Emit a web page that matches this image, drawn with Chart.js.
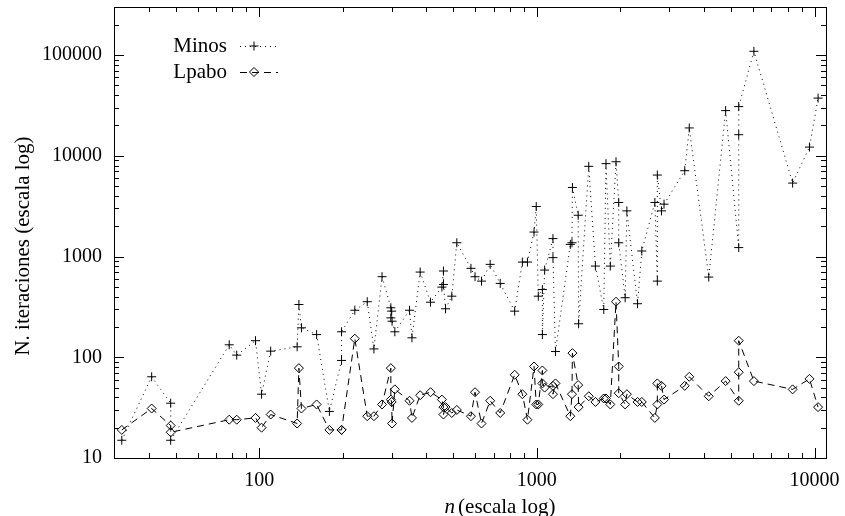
<!DOCTYPE html>
<html>
<head>
<meta charset="utf-8">
<script src="https://cdn.jsdelivr.net/npm/chart.js@4.4.0/dist/chart.umd.min.js"></script>
<style>
	html, body { margin: 0; padding: 0; background: #fff; }
	#wrap { width: 845px; height: 516px; }
</style>
</head>
<body>
<div id="wrap"><canvas id="chartIter"></canvas></div>
<script>
	// problem size n, one entry per test problem
	const sizes = [
		32, 41, 48, 48, 78, 83, 97, 102, 110, 137,
		139, 142, 161, 179, 198, 198, 221, 245, 259, 277,
		298, 298, 300, 301, 308, 348, 355, 380, 414, 455,
		461, 461, 469, 494, 515, 579, 599, 632, 679, 738,
		832, 887, 925, 977, 995, 1012, 1047, 1047, 1067, 1143,
		1143, 1167, 1320, 1338, 1343, 1409, 1414, 1538, 1625, 1742,
		1774, 1839, 1928, 1972, 1972, 2080, 2110, 2305, 2388, 2661,
		2716, 2716, 2812, 2871, 3409, 3540, 4160, 4786, 5334, 5334,
		5334, 6050, 8340, 9590, 10300
	];
	const minosIter = [
		15, 64, 35, 15, 133, 105, 146, 43, 115, 127,
		334, 196, 168, 29, 93, 179, 293, 356, 121, 631,
		310, 246, 287, 228, 179, 293, 156, 701, 352, 497,
		718, 528, 303, 404, 1370, 763, 630, 570, 836, 541,
		287, 881, 881, 1750, 3140, 404, 471, 168, 734, 1507,
		975, 114, 1320, 1370, 4850, 2570, 215, 7860, 804, 298,
		8360, 804, 8730, 3440, 1370, 390, 2840, 340, 1135, 3440,
		570, 6440, 2840, 3310, 7110, 18900, 625, 28100, 1227, 16200,
		30800, 109000, 5360, 12200, 37400
	];
	const lpaboIter = [
		19, 31, 21, 18, 24, 24, 25, 20, 27, 22,
		78, 31, 34, 19, 19, 19, 153, 26, 26, 34,
		78, 38, 36, 22, 48, 37, 25, 42, 45, 38,
		32, 27, 32, 28, 30, 26, 45, 22, 37, 28,
		67, 43, 24, 81, 34, 34, 74, 55, 50, 52,
		43, 55, 26, 43, 110, 53, 32, 41, 36, 39,
		39, 34, 356, 81, 44, 34, 43, 36, 36, 25,
		34, 55, 52, 38, 52, 64, 41, 58, 37, 71,
		146, 58, 48, 61, 32
	];
	const seriesNames = ["Minos", "Lpabo"];
	const xRange = [30, 11000];
	const yRange = [10, 300000];

	const FONT = "'Liberation Serif', 'Times New Roman', serif";
	Chart.defaults.font.family = FONT;
	Chart.defaults.font.size = 20;
	Chart.defaults.color = "#000";

	function isPow10(v) {
		let l = Math.log10(v);
		return Math.abs(l - Math.round(l)) < 1e-9;
	}

	function toPoints(ys) {
		return sizes.map(function(n, i) { return { x: n, y: ys[i] }; });
	}

	const styles = [
		{ dash: [1, 4], point: "cross" },
		{ dash: [7, 5], point: "rectRot" }
	];

	// gnuplot look: frame, inward ticks on every side, legend and axis titles
	const gnuplotFrame = {
		id: "gnuplotFrame",
		afterDraw: function(chart) {
			let ctx = chart.ctx;
			let a = chart.chartArea;
			let xs = chart.scales.x;
			let ys = chart.scales.y;
			ctx.save();
			ctx.strokeStyle = "#000";
			ctx.lineWidth = 1;
			ctx.setLineDash([]);
			ctx.strokeRect(Math.round(a.left) + 0.5, Math.round(a.top) + 0.5,
				Math.round(a.right - a.left), Math.round(a.bottom - a.top));

			function logTicks(min, max) {
				let out = [];
				for (let e = Math.floor(Math.log10(min)); e <= Math.ceil(Math.log10(max)); e++) {
					for (let m = 1; m < 10; m++) {
						let v = m * Math.pow(10, e);
						if (v > min * 1.0001 && v < max * 0.9999) out.push({ v: v, major: m === 1 });
					}
				}
				return out;
			}

			ctx.beginPath();
			logTicks(xs.min, xs.max).forEach(function(t) {
				let px = Math.round(xs.getPixelForValue(t.v)) + 0.5;
				let len = t.major ? 10 : 5;
				ctx.moveTo(px, a.bottom); ctx.lineTo(px, a.bottom - len);
				ctx.moveTo(px, a.top); ctx.lineTo(px, a.top + len);
			});
			logTicks(ys.min, ys.max).forEach(function(t) {
				let py = Math.round(ys.getPixelForValue(t.v)) + 0.5;
				let len = t.major ? 10 : 5;
				ctx.moveTo(a.left, py); ctx.lineTo(a.left + len, py);
				ctx.moveTo(a.right, py); ctx.lineTo(a.right - len, py);
			});
			ctx.stroke();

			// legend
			ctx.font = "21px " + FONT;
			ctx.fillStyle = "#000";
			ctx.textAlign = "right";
			ctx.textBaseline = "middle";
			seriesNames.forEach(function(name, i) {
				let y = 46 + i * 26;
				ctx.fillStyle = "#000";
				ctx.fillText(name, 227, y);
				ctx.save();
				ctx.setLineDash(styles[i].dash);
				ctx.beginPath();
				ctx.moveTo(240, y + 0.5);
				ctx.lineTo(278, y + 0.5);
				ctx.stroke();
				ctx.restore();
				ctx.fillStyle = "rgba(0,0,0,0)";
				Chart.helpers.drawPoint(ctx, {
					pointStyle: styles[i].point, radius: 4.5, borderWidth: 1, rotation: 0
				}, 254, y);
			});
			ctx.fillStyle = "#000";

			// axis titles
			ctx.textAlign = "center";
			ctx.save();
			ctx.translate(23, 246);
			ctx.rotate(-Math.PI / 2);
			ctx.fillText("N. iteraciones (escala log)", 0, 0);
			ctx.restore();

			let ital = "italic 21px " + FONT;
			let norm = "21px " + FONT;
			let rest = "(escala log)";
			ctx.font = ital;
			let w1 = ctx.measureText("n").width + 3;
			ctx.font = norm;
			let w2 = ctx.measureText(rest).width;
			let x0 = 500 - (w1 + w2) / 2;
			ctx.textAlign = "left";
			ctx.font = ital;
			ctx.fillText("n", x0, 507);
			ctx.font = norm;
			ctx.fillText(rest, x0 + w1, 507);
			ctx.restore();
		}
	};

	let ctx = document.getElementById("chartIter");

	let data = {
		datasets: [minosIter, lpaboIter].map(function(ys, i) {
			return {
				label: seriesNames[i],
				data: toPoints(ys),
				borderColor: "#000",
				borderWidth: 1,
				borderDash: styles[i].dash,
				backgroundColor: "rgba(0,0,0,0)",
				pointStyle: styles[i].point,
				pointRadius: 4.5,
				pointBorderWidth: 1,
				pointBorderColor: "#000",
				pointBackgroundColor: "rgba(0,0,0,0)",
				fill: false,
				tension: 0
			};
		})
	};

	let options = {
		responsive: true,
		maintainAspectRatio: false,
		animation: false,
		devicePixelRatio: 1,
		layout: {
			padding: { left: 0, right: 19, top: 7, bottom: 0 }
		},
		plugins: {
			legend: { display: false },
			tooltip: { enabled: false }
		},
		scales: {
			x: {
				type: "logarithmic",
				min: xRange[0],
				max: xRange[1],
				grid: { display: false, drawTicks: false },
				border: { display: false },
				ticks: {
					autoSkip: false,
					maxRotation: 0,
					padding: 11,
					callback: function(v) { return isPow10(v) ? String(v) : ""; }
				},
				afterFit: function(s) {
					s.height = 58;
					s.paddingLeft = 0;
					s.paddingRight = 0;
				}
			},
			y: {
				type: "logarithmic",
				min: yRange[0],
				max: yRange[1],
				grid: { display: false, drawTicks: false },
				border: { display: false },
				ticks: {
					autoSkip: false,
					padding: 12,
					callback: function(v) { return isPow10(v) ? String(v) : ""; }
				},
				afterFit: function(s) {
					s.width = 114;
					s.paddingTop = 0;
					s.paddingBottom = 0;
				}
			}
		}
	};

	let iterChart = new Chart(ctx, {
		type: "line",
		data: data,
		options: options,
		plugins: [gnuplotFrame]
	});
</script>
</body>
</html>
